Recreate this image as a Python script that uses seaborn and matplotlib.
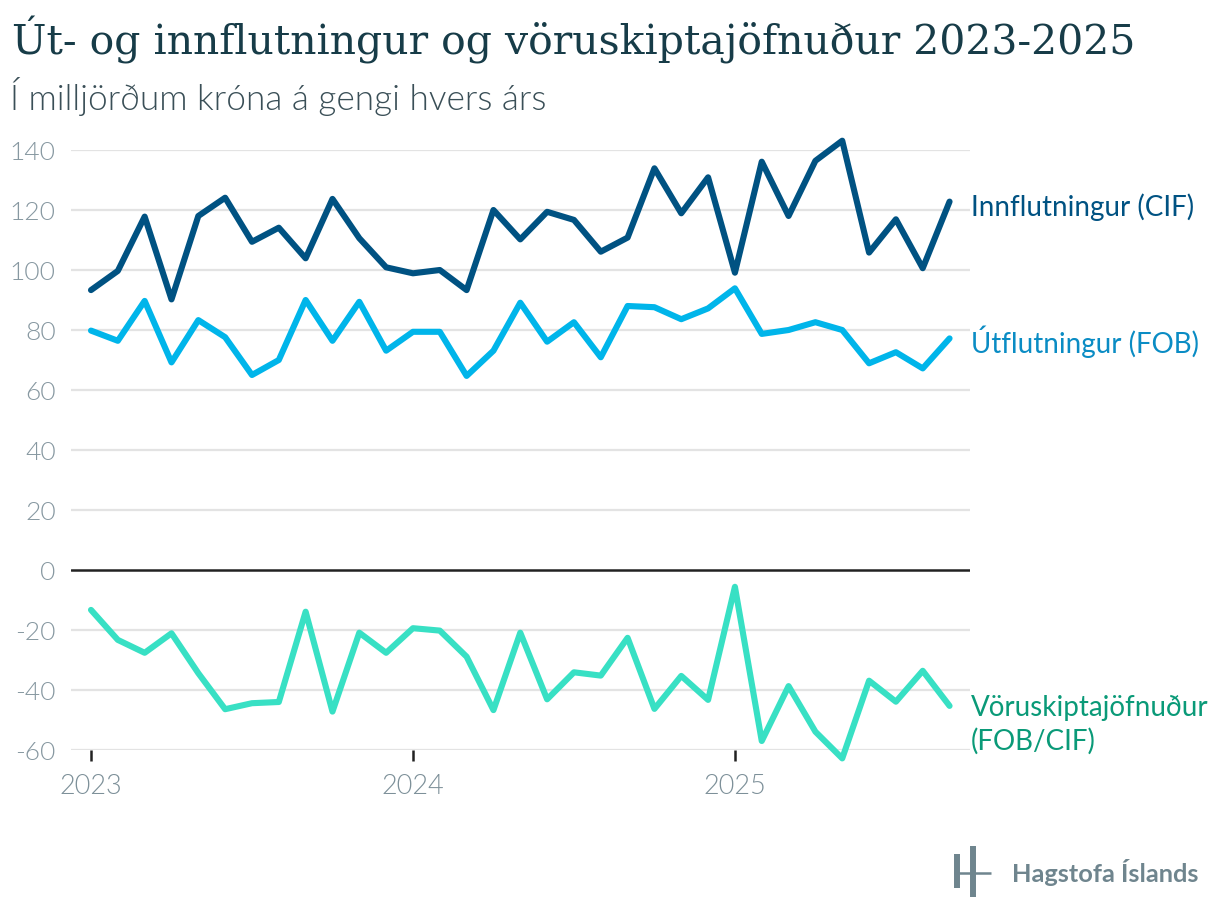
import numpy as np
import pandas as pd
import matplotlib
matplotlib.use("Agg")
import matplotlib.pyplot as plt
import seaborn as sns

# monthly values, jan 2023 - sep 2025 (billions ISK)
months = pd.date_range("2023-01-01", periods=33, freq="MS")

imports_cif = [93.3, 99.7, 117.8, 90.2, 118.0, 124.1, 109.4, 114.1, 103.9, 123.7,
               110.6, 100.9, 98.9, 100.0, 93.3, 120.0, 110.2, 119.4, 116.7, 106.1,
               110.8, 133.9, 118.9, 130.9, 99.1, 136.1, 118.0, 136.4, 143.1, 105.8,
               116.9, 100.6, 122.8]
exports_fob = [79.8, 76.4, 89.7, 69.2, 83.3, 77.6, 65.0, 70.0, 90.0, 76.4,
               89.4, 73.1, 79.4, 79.4, 64.7, 73.1, 89.1, 76.1, 82.6, 70.9,
               88.0, 87.6, 83.6, 87.2, 93.9, 78.7, 80.0, 82.6, 80.0, 68.9,
               72.6, 67.2, 77.2]
balance = [-13.3, -23.3, -27.6, -21.1, -34.4, -46.4, -44.4, -44.0, -13.9, -47.2,
           -20.9, -27.6, -19.4, -20.2, -28.9, -46.7, -20.9, -43.1, -34.1, -35.2,
           -22.6, -46.3, -35.3, -43.3, -5.6, -57.0, -38.7, -53.9, -62.8, -36.9,
           -43.9, -33.6, -45.3]

series_names = ["Innflutningur (CIF)", "Útflutningur (FOB)", "Vöruskiptajöfnuður (FOB/CIF)"]
label_texts = ["Innflutningur (CIF)", "Útflutningur (FOB)", "Vöruskiptajöfnuður\n(FOB/CIF)"]
line_colors = ["#005282", "#00b5ea", "#38e0c4"]
label_colors = ["#005282", "#0a8cc4", "#0a9a78"]

df = pd.DataFrame({
    "idx": list(range(33)) * 3,
    "value": imports_cif + exports_fob + balance,
    "series": [series_names[0]] * 33 + [series_names[1]] * 33 + [series_names[2]] * 33,
})

sns.set_theme(style="white")
plt.rcParams['font.family'] = ['Lato', 'DejaVu Sans']

fig = plt.figure(figsize=(12.2, 9.22), dpi=100)
ax = fig.add_axes([71 / 1220, 1 - 750 / 922, (970 - 71) / 1220, 600 / 922])

# grid
for v in range(-60, 141, 20):
    if v == 0:
        continue
    ax.axhline(v, color="#e3e3e3", lw=1.6, zorder=0)
ax.axhline(0, color="#222222", lw=1.8, zorder=1)

sns.lineplot(data=df, x="idx", y="value", hue="series", palette=line_colors,
             linewidth=4.4, legend=False, ax=ax, zorder=3)
for ln in ax.get_lines()[-3:]:
    ln.set_solid_capstyle("round")
    ln.set_solid_joinstyle("round")
    ln.set_clip_on(False)

ax.set_xlim(-20 / 26.83, 879 / 26.83)
ax.set_ylim(-60, 140)
ax.set_yticks(range(-60, 141, 20))
ax.set_yticklabels([str(v) for v in range(-60, 141, 20)], color="#8798a1", fontsize=19,
                   fontweight=300)
ax.set_xticks([0, 12, 24])
ax.set_xticklabels(["2023", "2024", "2025"], color="#7d9099", fontsize=19.5, fontweight=300)
ax.tick_params(axis="y", length=0, pad=11)
ax.tick_params(axis="x", length=8, width=1.8, color="#222222", pad=9, direction="out", bottom=True)
for s in ax.spines.values():
    s.set_visible(False)
ax.set_xlabel("")
ax.set_ylabel("")

# series labels at line ends
label_y = [imports_cif[-1] - 2, exports_fob[-1] - 1, balance[-1] - 0.6]
for txt, yv, c in zip(label_texts, label_y, label_colors):
    first, *rest = txt.split("\n")
    ax.text(32.8, yv, first, color=c, fontsize=20, va="center", ha="left", clip_on=False)
    for k, r in enumerate(rest):
        ax.text(32.8, yv - 11.3 * (k + 1), r, color=c, fontsize=20, va="center", ha="left",
                clip_on=False)

fig.text(12 / 1220, 1 - 40 / 922, "Út- og innflutningur og vöruskiptajöfnuður 2023-2025",
         fontsize=29.5, color="#173c48", family=["DejaVu Serif"], va="center", ha="left")
fig.text(10 / 1220, 1 - 96 / 922, "Í milljörðum króna á gengi hvers árs",
         fontsize=25.3, color="#3a4f57", fontweight=300, va="center", ha="left")

# logo
lc = "#6f858e"
fig.add_artist(plt.Line2D([957 / 1220, 957 / 1220], [1 - 854 / 922, 1 - 888 / 922], color=lc, lw=4.3, solid_capstyle="butt"))
fig.add_artist(plt.Line2D([972.5 / 1220, 972.5 / 1220], [1 - 846 / 922, 1 - 897 / 922], color=lc, lw=4.3, solid_capstyle="butt"))
fig.add_artist(plt.Line2D([954 / 1220, 991 / 1220], [1 - 873 / 922, 1 - 873 / 922], color=lc, lw=1.8, solid_capstyle="butt"))
fig.text(1012 / 1220, 1 - 872 / 922, "Hagstofa Íslands", fontsize=18.3, color=lc,
         fontweight="bold", va="center", ha="left")

fig.savefig("out.png", dpi=100)
